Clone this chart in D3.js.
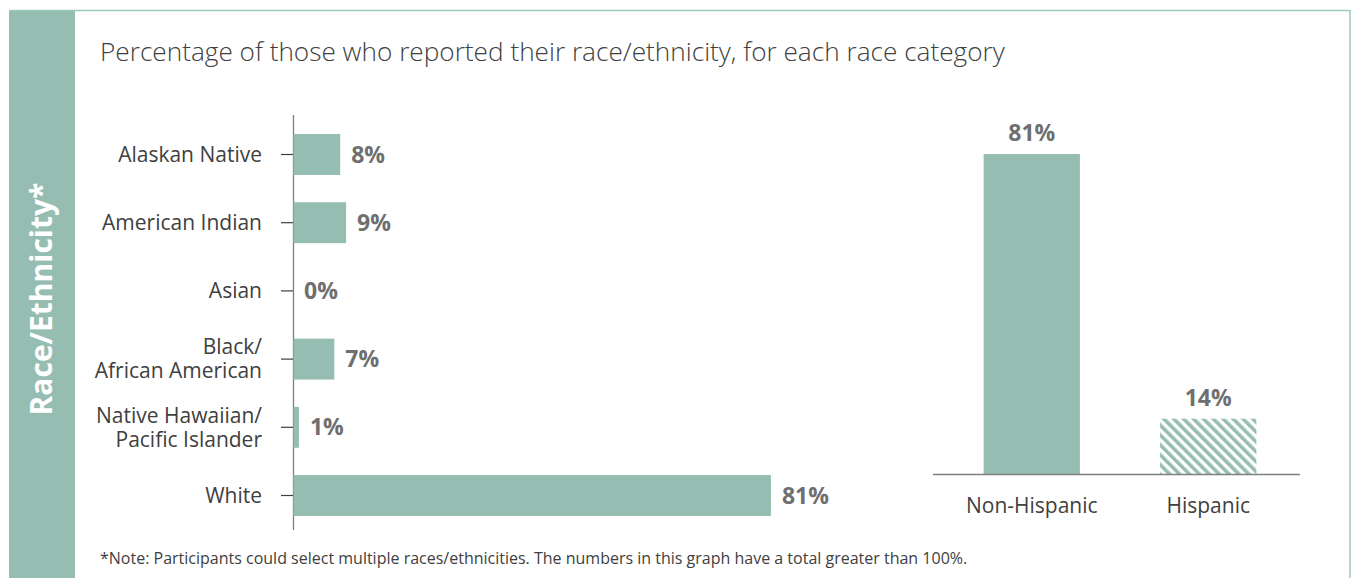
<!DOCTYPE html>
<html>
<head>
<meta charset="utf-8">
<script src="https://cdn.jsdelivr.net/npm/d3@7"></script>
<style>
  html, body { margin: 0; padding: 0; background: #fff; }
  svg { display: block; font-family: "Open Sans", "Noto Sans", sans-serif; }
</style>
</head>
<body>
<svg id="chart" width="1351" height="578"></svg>
<script>
// Race categories (left panel) and their percentages
const raceCategories = ["Alaskan Native", "American Indian", "Asian", "Black/\nAfrican American", "Native Hawaiian/\nPacific Islander", "White"];
const raceValues = [8, 9, 0, 7, 1, 81];

// Ethnicity categories (right panel) and their percentages
const ethnicityCategories = ["Non-Hispanic", "Hispanic"];
const ethnicityValues = [81, 14];

const titleText = "Percentage of those who reported their race/ethnicity, for each race category";
const sideTitle = "Race/Ethnicity*";
const noteText = "*Note: Participants could select multiple races/ethnicities. The numbers in this graph have a total greater than 100%.";

const GREEN = "#95bdb1";
const BORDER = "#9ccbba";
const TEXT = "#404040";
const VALUE = "#6f6f6f";
const AXIS = "#7f7f7f";

const svg = d3.select("#chart");

// Hatched fill for the Hispanic bar
const defs = svg.append("defs");
const pat = defs.append("pattern")
  .attr("id", "hatch")
  .attr("patternUnits", "userSpaceOnUse")
  .attr("width", 7).attr("height", 7)
  .attr("patternTransform", "rotate(-45)");
pat.append("rect").attr("width", 7).attr("height", 7).attr("fill", "#fff");
pat.append("rect").attr("width", 3.6).attr("height", 7).attr("fill", GREEN);

// Frame: side band, top and right border
svg.append("rect").attr("x", 9).attr("y", 10).attr("width", 66).attr("height", 578).attr("fill", GREEN);
svg.append("line").attr("x1", 9).attr("x2", 1350.5).attr("y1", 10.5).attr("y2", 10.5)
  .attr("stroke", BORDER).attr("stroke-width", 1.5);
svg.append("line").attr("x1", 1350).attr("x2", 1350).attr("y1", 10).attr("y2", 578)
  .attr("stroke", BORDER).attr("stroke-width", 1.5);

// Vertical side title
svg.append("text")
  .attr("transform", "translate(52,299) rotate(-90)")
  .attr("text-anchor", "middle")
  .attr("fill", "#fff")
  .attr("font-size", 30)
  .attr("font-weight", 700)
  .text(sideTitle);

// Chart title
svg.append("text")
  .attr("x", 100).attr("y", 61)
  .attr("fill", TEXT)
  .attr("font-size", 26.2)
  .attr("font-weight", 300)
  .text(titleText);

// ---------- Left panel: horizontal bars ----------
const x = d3.scaleLinear().domain([0, 100]).range([293, 883]);
const y = d3.scaleBand().domain(raceCategories).range([120.4, 529.6]).paddingInner(0.4).paddingOuter(0.2);

const left = svg.append("g");
left.append("line").attr("x1", 293.5).attr("x2", 293.5).attr("y1", 115).attr("y2", 530)
  .attr("stroke", AXIS).attr("stroke-width", 1.3);

const rows = left.selectAll("g.row").data(raceCategories).enter().append("g").attr("class", "row");
rows.append("line")
  .attr("x1", 281).attr("x2", 293)
  .attr("y1", d => y(d) + y.bandwidth() / 2).attr("y2", d => y(d) + y.bandwidth() / 2)
  .attr("stroke", TEXT).attr("stroke-width", 1.2);
rows.append("rect")
  .attr("x", x(0) + 0.5)
  .attr("y", d => y(d))
  .attr("width", (d, i) => Math.max(0, x(raceValues[i]) - x(0) - 0.5))
  .attr("height", y.bandwidth())
  .attr("fill", GREEN);
rows.append("text")
  .attr("x", (d, i) => x(raceValues[i]) + 11)
  .attr("y", d => y(d) + y.bandwidth() / 2)
  .attr("dy", "0.35em")
  .attr("fill", VALUE)
  .attr("font-size", 23)
  .attr("font-weight", 700)
  .text((d, i) => raceValues[i] + "%");
rows.each(function(d) {
  const lines = d.split("\n");
  const cy = y(d) + y.bandwidth() / 2;
  const lh = 24;
  lines.forEach((ln, k) => {
    d3.select(this).append("text")
      .attr("text-anchor", "end")
      .attr("fill", TEXT)
      .attr("font-size", 21)
      .attr("x", 262)
      .attr("y", cy + (k - (lines.length - 1) / 2) * lh)
      .attr("dy", "0.35em")
      .text(ln);
  });
});

// ---------- Right panel: vertical bars ----------
const xb = d3.scaleBand().domain(ethnicityCategories).range([936, 1304]).paddingInner(0.4545).paddingOuter(0.27);
const yb = d3.scaleLinear().domain([0, 100]).range([474, 79]);

const right = svg.append("g");
right.selectAll("rect.bar").data(ethnicityCategories).enter().append("rect")
  .attr("class", "bar")
  .attr("x", d => xb(d))
  .attr("y", (d, i) => yb(ethnicityValues[i]))
  .attr("width", xb.bandwidth())
  .attr("height", (d, i) => yb(0) - yb(ethnicityValues[i]))
  .attr("fill", (d, i) => i === 1 ? "url(#hatch)" : GREEN);
right.append("line").attr("x1", 933).attr("x2", 1300).attr("y1", 474.5).attr("y2", 474.5)
  .attr("stroke", AXIS).attr("stroke-width", 1.3);
right.selectAll("text.val").data(ethnicityCategories).enter().append("text")
  .attr("class", "val")
  .attr("x", d => xb(d) + xb.bandwidth() / 2)
  .attr("y", (d, i) => yb(ethnicityValues[i]) - 13)
  .attr("text-anchor", "middle")
  .attr("fill", VALUE)
  .attr("font-size", 23)
  .attr("font-weight", 700)
  .text((d, i) => ethnicityValues[i] + "%");
right.selectAll("text.cat").data(ethnicityCategories).enter().append("text")
  .attr("class", "cat")
  .attr("x", d => xb(d) + xb.bandwidth() / 2)
  .attr("y", 513)
  .attr("text-anchor", "middle")
  .attr("fill", TEXT)
  .attr("font-size", 21)
  .text(d => d);

// Footnote
svg.append("text")
  .attr("x", 100).attr("y", 564)
  .attr("fill", TEXT)
  .attr("font-size", 16)
  .text(noteText);
</script>
</body>
</html>
